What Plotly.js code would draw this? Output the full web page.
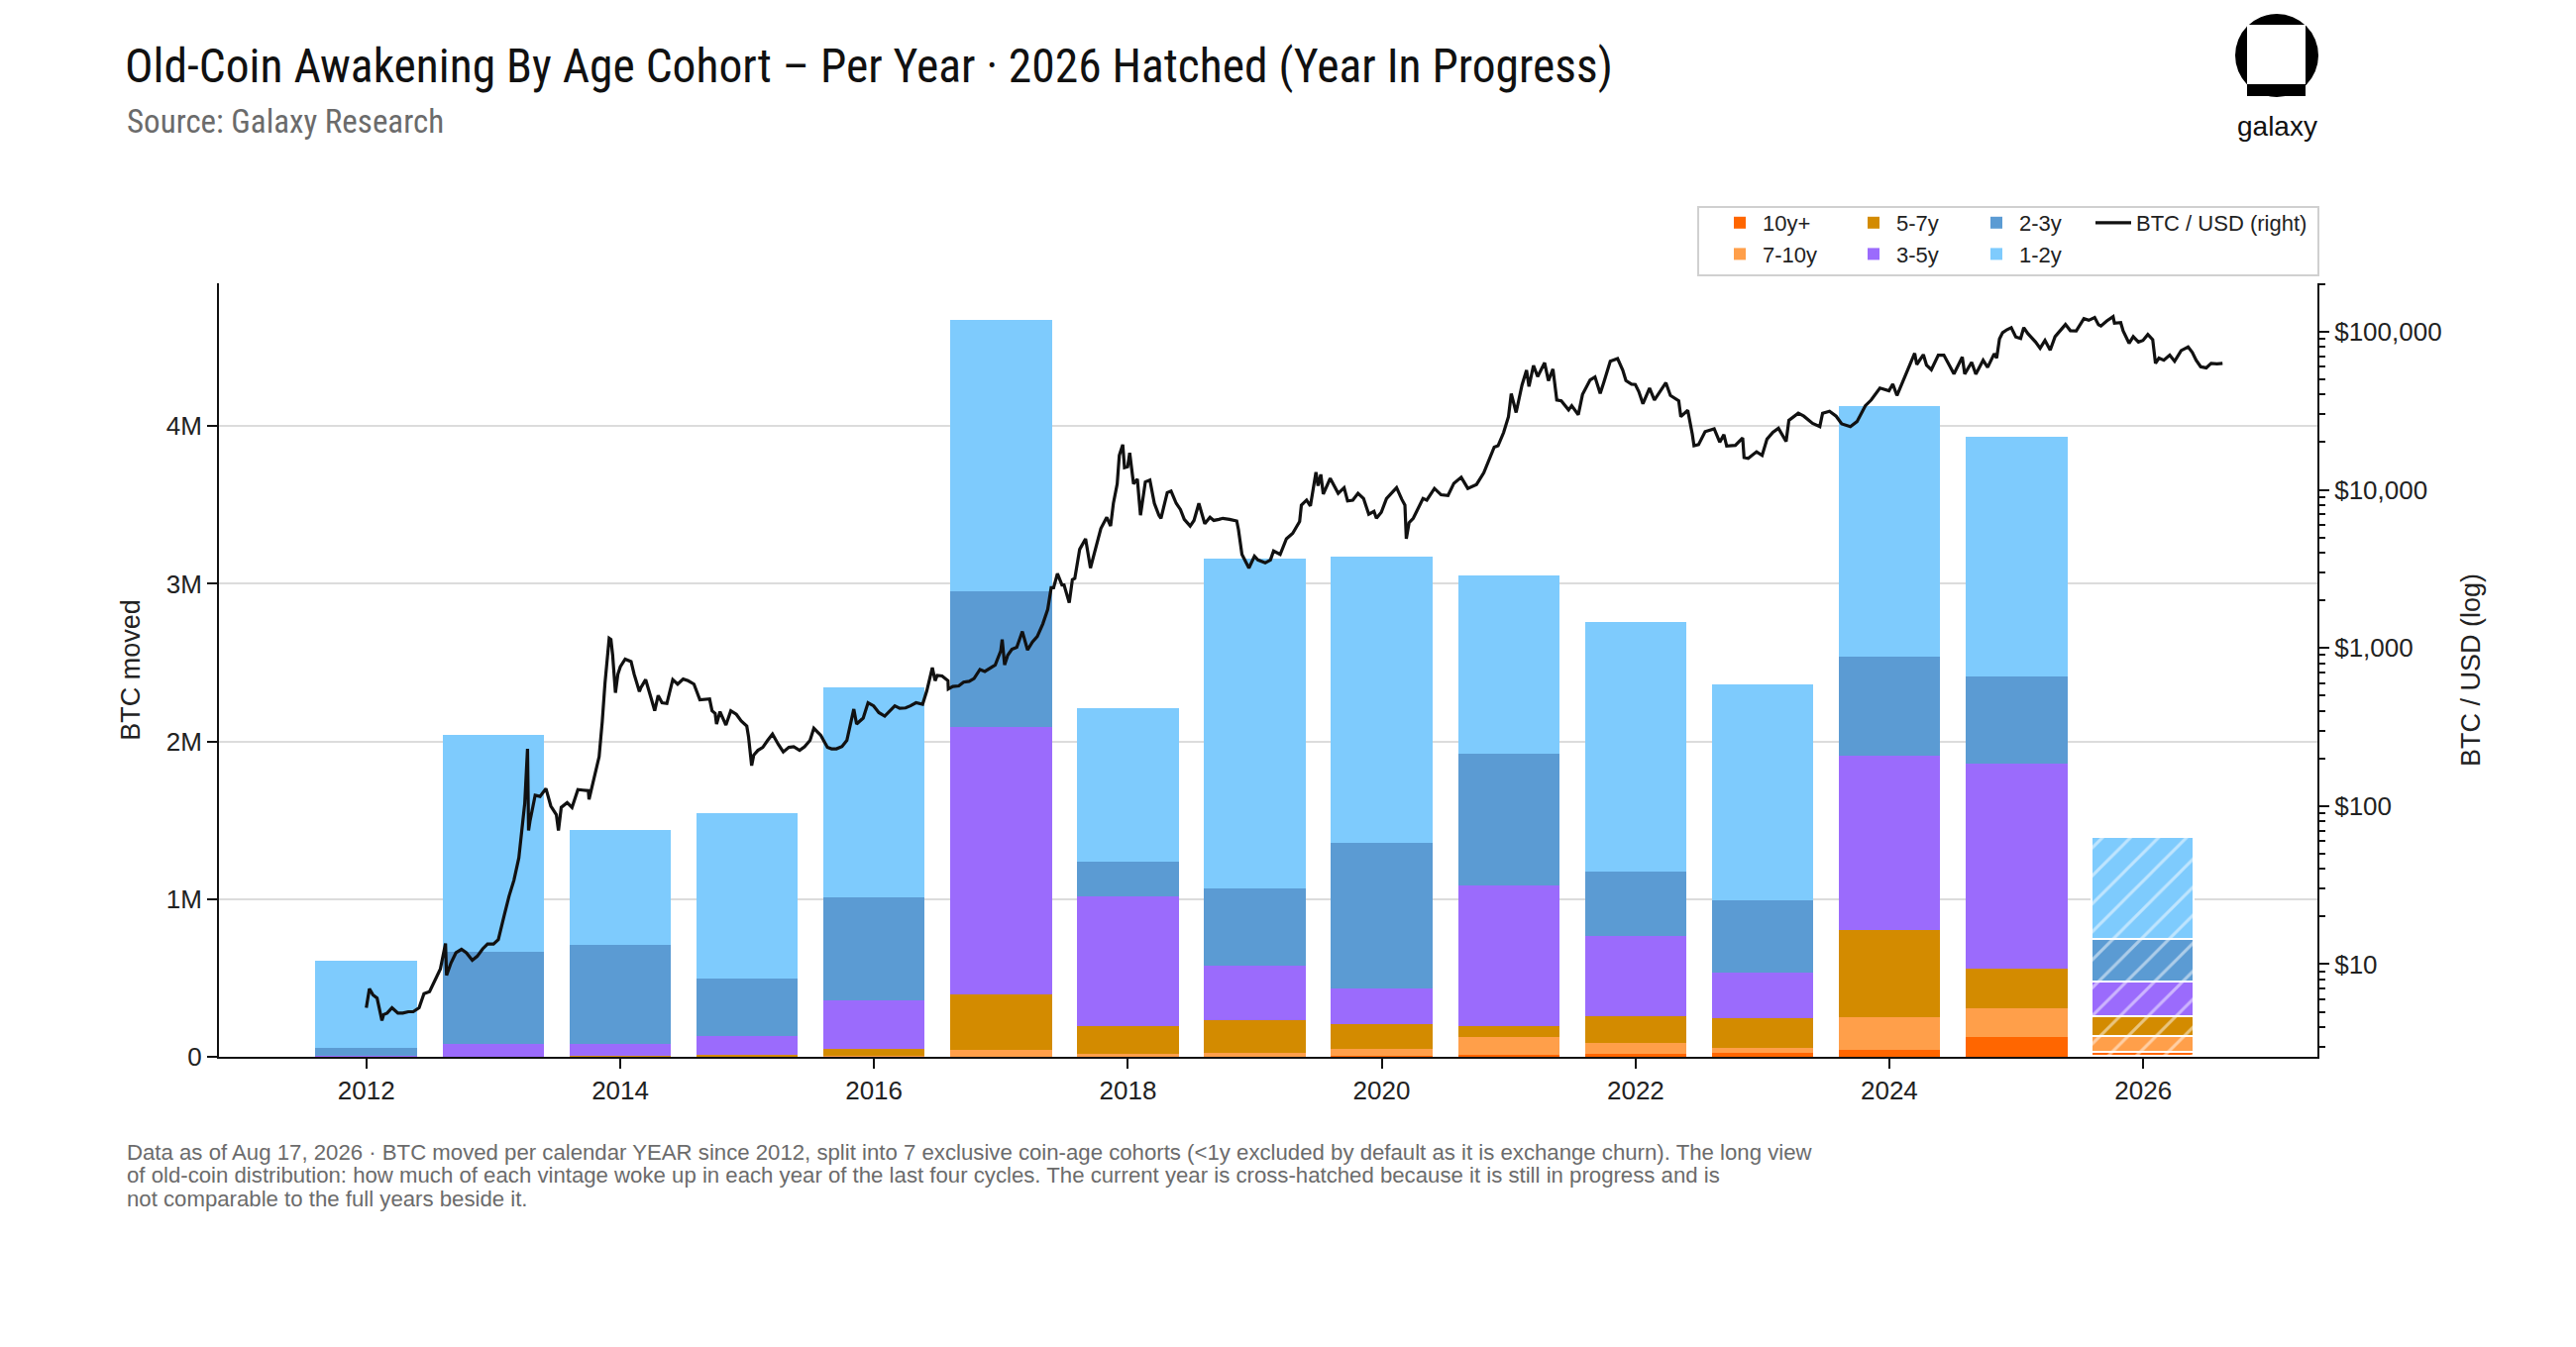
<!DOCTYPE html>
<html>
<head>
<meta charset="utf-8">
<script src="https://cdn.plot.ly/plotly-3.0.1.min.js"></script>
<style>html,body{margin:0;padding:0;background:#fff;}#chart{width:2600px;height:1360px;}</style>
</head>
<body>
<div id="chart"></div>
<script>
// ---- Data (BTC moved, millions) ----
const years = [2012,2013,2014,2015,2016,2017,2018,2019,2020,2021,2022,2023,2024,2025,2026];
const cohortNames = ['10y+','7-10y','5-7y','3-5y','2-3y','1-2y'];
const c10yPlus = [0,0,0,0,0,0,0,0,0.005,0.010,0.016,0.023,0.043,0.125,0.026];
const c7to10y  = [0,0,0,0,0.008,0.043,0.016,0.023,0.044,0.115,0.073,0.033,0.210,0.184,0.099];
const c5to7y   = [0,0,0.005,0.010,0.045,0.354,0.181,0.210,0.158,0.072,0.170,0.190,0.552,0.249,0.125];
const c3to5y   = [0.005,0.079,0.074,0.121,0.302,1.695,0.818,0.342,0.226,0.890,0.509,0.286,1.106,1.304,0.220];
const c2to3y   = [0.051,0.588,0.630,0.365,0.656,0.860,0.223,0.492,0.923,0.834,0.408,0.460,0.628,0.549,0.272];
const c1to2y   = [0.555,1.376,0.729,1.051,1.331,1.721,0.972,2.092,1.816,1.130,1.583,1.369,1.586,1.520,0.647];
const inProgressYear = 2026;

// ---- BTC / USD price ----
const priceDates = [
'2012-01-01','2012-01-10','2012-01-20','2012-02-01','2012-02-15','2012-02-20','2012-03-01','2012-03-15','2012-04-01','2012-04-15','2012-05-01','2012-05-15','2012-06-01','2012-06-15','2012-07-01','2012-07-15','2012-08-01','2012-08-16','2012-08-19','2012-09-01','2012-09-15','2012-10-01','2012-10-15','2012-11-01','2012-11-15','2012-12-01','2012-12-15',
'2013-01-01','2013-01-15','2013-02-01','2013-02-15','2013-03-01','2013-03-15','2013-04-01','2013-04-09','2013-04-12','2013-04-16','2013-05-01','2013-05-15','2013-06-01','2013-06-15','2013-07-01','2013-07-07','2013-07-15','2013-08-01','2013-08-15','2013-09-01','2013-09-15','2013-10-01','2013-10-03','2013-10-15','2013-11-01','2013-11-10','2013-11-18','2013-11-30','2013-12-05','2013-12-10','2013-12-18','2013-12-25',
'2014-01-01','2014-01-15','2014-02-01','2014-02-10','2014-02-25','2014-03-01','2014-03-15','2014-04-01','2014-04-10','2014-04-20','2014-05-01','2014-05-15','2014-06-01','2014-06-15','2014-07-01','2014-07-15','2014-08-01','2014-08-18','2014-09-01','2014-09-15','2014-09-22','2014-10-01','2014-10-05','2014-10-15','2014-11-01','2014-11-15','2014-12-01','2014-12-15','2014-12-31',
'2015-01-05','2015-01-14','2015-01-20','2015-02-01','2015-02-15','2015-03-01','2015-03-15','2015-04-01','2015-04-15','2015-05-01','2015-05-15','2015-06-01','2015-06-15','2015-07-01','2015-07-12','2015-08-01','2015-08-20','2015-09-01','2015-09-15','2015-10-01','2015-10-15','2015-11-04','2015-11-12','2015-12-01','2015-12-15','2015-12-31',
'2016-01-15','2016-02-01','2016-02-15','2016-03-01','2016-03-15','2016-04-01','2016-04-15','2016-05-01','2016-05-20','2016-06-01','2016-06-17','2016-06-25','2016-07-01','2016-07-15','2016-08-01','2016-08-02','2016-08-15','2016-09-01','2016-09-15','2016-10-01','2016-10-15','2016-11-01','2016-11-15','2016-12-01','2016-12-15','2016-12-31',
'2017-01-04','2017-01-11','2017-01-20','2017-02-01','2017-02-15','2017-03-03','2017-03-18','2017-04-01','2017-04-15','2017-05-01','2017-05-15','2017-05-25','2017-06-01','2017-06-12','2017-06-25','2017-07-01','2017-07-16','2017-07-25','2017-08-01','2017-08-15','2017-09-01','2017-09-15','2017-09-25','2017-10-01','2017-10-15','2017-11-01','2017-11-12','2017-11-20','2017-12-01','2017-12-07','2017-12-17','2017-12-22','2017-12-31',
'2018-01-06','2018-01-17','2018-01-28','2018-02-06','2018-02-20','2018-03-05','2018-03-18','2018-03-31','2018-04-06','2018-04-24','2018-05-05','2018-05-20','2018-06-01','2018-06-12','2018-06-29','2018-07-10','2018-07-24','2018-08-10','2018-08-25','2018-09-05','2018-09-20','2018-10-01','2018-10-20','2018-11-10','2018-11-15','2018-11-25','2018-12-15','2018-12-31',
'2019-01-10','2019-01-31','2019-02-15','2019-02-24','2019-03-15','2019-04-02','2019-04-20','2019-05-10','2019-05-15','2019-05-30','2019-06-10','2019-06-26','2019-07-02','2019-07-10','2019-07-17','2019-08-06','2019-08-29','2019-09-15','2019-09-25','2019-10-10','2019-10-25','2019-11-10','2019-11-25','2019-12-10','2019-12-17','2019-12-31',
'2020-01-15','2020-02-13','2020-02-28','2020-03-08','2020-03-12','2020-03-20','2020-04-01','2020-04-29','2020-05-10','2020-06-01','2020-06-20','2020-07-10','2020-07-27','2020-08-17','2020-09-05','2020-09-30','2020-10-21','2020-11-05','2020-11-20','2020-12-01','2020-12-17','2020-12-31',
'2021-01-08','2021-01-22','2021-02-08','2021-02-21','2021-02-28','2021-03-13','2021-03-25','2021-04-14','2021-04-25','2021-05-08','2021-05-19','2021-06-01','2021-06-22','2021-07-01','2021-07-20','2021-08-01','2021-08-23','2021-09-06','2021-09-21','2021-10-01','2021-10-20','2021-11-10','2021-11-25','2021-12-04','2021-12-20','2021-12-31',
'2022-01-10','2022-01-22','2022-02-10','2022-02-24','2022-03-29','2022-04-11','2022-05-05','2022-05-11','2022-05-31','2022-06-13','2022-06-18','2022-07-01','2022-07-20','2022-08-15','2022-08-31','2022-09-12','2022-09-20','2022-10-15','2022-11-05','2022-11-09','2022-11-21','2022-12-15','2022-12-31',
'2023-01-14','2023-01-31','2023-02-16','2023-03-10','2023-03-18','2023-04-14','2023-04-30','2023-05-25','2023-06-15','2023-06-23','2023-07-13','2023-08-01','2023-08-17','2023-09-11','2023-09-30','2023-10-24','2023-11-10','2023-12-05','2023-12-31',
'2024-01-11','2024-01-23','2024-02-15','2024-02-28','2024-03-14','2024-03-20','2024-04-08','2024-04-17','2024-05-01','2024-05-21','2024-06-06','2024-06-24','2024-07-05','2024-07-29','2024-08-05','2024-08-25','2024-09-06','2024-09-27','2024-10-10','2024-10-29','2024-11-05','2024-11-13','2024-11-22','2024-12-05','2024-12-17','2024-12-30',
'2025-01-13','2025-01-22','2025-02-03','2025-02-25','2025-03-10','2025-03-24','2025-04-08','2025-04-22','2025-05-10','2025-05-22','2025-06-05','2025-06-22','2025-07-14','2025-07-28','2025-08-14','2025-08-25','2025-09-01','2025-09-18','2025-10-06','2025-10-10','2025-10-28','2025-11-04','2025-11-21','2025-12-03','2025-12-18','2025-12-31',
'2026-01-14','2026-01-28','2026-02-05','2026-02-15','2026-03-01','2026-03-18','2026-04-01','2026-04-20','2026-05-10','2026-05-22','2026-06-02','2026-06-15','2026-07-01','2026-07-15','2026-08-01','2026-08-17'
];
const priceUSD = [
5.3,7.0,6.4,6.1,4.4,4.8,4.9,5.3,4.9,4.9,5.0,5.0,5.3,6.5,6.7,7.7,9.3,13.5,8.5,10.2,11.8,12.4,11.8,10.6,11.2,12.5,13.4,
13.4,14.3,20.4,27,34,47,104,230,70,80,117,115,129,100,88,70,98,105,98,127,126,125,110,145,205,340,600,1150,1130,900,520,680,
760,850,820,680,530,560,630,470,400,500,450,445,630,590,635,620,590,470,475,475,400,385,330,395,325,400,380,345,320,
275,180,210,225,235,260,285,245,220,235,237,225,237,260,310,280,235,230,230,238,260,410,330,360,450,430,
390,370,400,430,415,417,430,450,440,535,750,620,670,665,620,550,570,575,607,615,640,730,710,750,780,960,
1130,780,900,980,1010,1270,970,1090,1180,1420,1750,2400,2400,2950,2500,2500,1930,2700,2750,4200,4900,3200,3900,4400,5700,6700,5900,8200,10900,16500,19300,13800,14000,
17100,10900,11700,6900,11200,11500,8200,6900,6600,9600,9800,8200,7500,6500,5900,6400,8200,6100,6700,6400,6500,6600,6500,6350,5600,3900,3200,3800,
3600,3450,3600,4100,3900,4900,5300,6300,8000,8600,7900,12900,10600,12500,9400,11800,9500,10300,8500,8600,9500,8800,7000,7300,6600,7200,
8800,10300,8700,8000,4900,6200,6600,8800,8600,10200,9300,9200,11000,12000,10200,10800,12800,15500,18600,19000,23000,29000,
40500,30800,46000,57000,45000,61000,52000,63500,49000,58000,37000,36500,32000,34000,29800,40000,49500,51700,40600,47500,65000,67500,57000,49000,46500,46300,
41800,35000,44000,37000,47500,39500,36500,29000,31800,22500,19000,19300,23300,24300,20000,22300,18900,19100,21300,16000,15800,17400,16500,
20900,23100,24500,20200,27500,30500,29200,26300,25100,30500,31400,29200,26100,25100,27000,34000,37000,44000,42300,
46600,39500,52000,62500,73000,62000,71600,61500,57500,71000,71000,60000,54000,69000,54000,64000,53900,65900,59500,72500,68000,90000,98500,103000,106000,92500,
90500,106000,97000,86000,78500,88000,76500,93000,104000,111000,101500,101000,121000,118000,123000,110500,108500,117000,124500,113000,114000,101000,84500,93000,86000,88000,
96000,89000,63000,68000,66000,71000,65000,76000,80000,74000,66000,60000,59000,63000,62500,63000
];

// ---- Labels ----
const yTickVals = [0,1,2,3,4];
const yTickText = ['0','1M','2M','3M','4M'];
const priceTickVals = [10,100,1000,10000,100000];
const priceTickText = ['$10','$100','$1,000','$10,000','$100,000'];
const priceMinorVals = [3,4,5,6,7,8,9,20,30,40,50,60,70,80,90,200,300,400,500,600,700,800,900,2000,3000,4000,5000,6000,7000,8000,9000,20000,30000,40000,50000,60000,70000,80000,90000,200000];
const cohortColors = ['#FF6600','#FF9F4A','#D38B00','#9B6BFC','#5B9BD3','#7ECBFD'];
const cohortLegend = ['legend','legend','legend2','legend2','legend3','legend3'];
const footLines = [
 'Data as of Aug 17, 2026 · BTC moved per calendar YEAR since 2012, split into 7 exclusive coin-age cohorts (<1y excluded by default as it is exchange churn). The long view',
 'of old-coin distribution: how much of each vintage woke up in each year of the last four cycles. The current year is cross-hatched because it is still in progress and is',
 'not comparable to the full years beside it.'
];

// ---- Build traces ----
const series = [c10yPlus,c7to10y,c5to7y,c3to5y,c2to3y,c1to2y];
const yearDates = years.map(y => y + '-01-01');
const barWidthMs = 0.8 * 365.25 * 86400000;
const patShapes = years.map(y => y === inProgressYear ? '/' : '');
const lineWidths = years.map(y => y === inProgressYear ? 1.6 : 0);

const traces = series.map((vals, i) => ({
  type: 'bar',
  name: cohortNames[i],
  x: yearDates,
  y: vals,
  width: barWidthMs,
  legend: cohortLegend[i],
  marker: {
    color: cohortColors[i],
    line: {color: '#ffffff', width: lineWidths},
    pattern: {shape: patShapes, fgcolor: '#ffffff', fillmode: 'overlay', size: 20, solidity: 0.15}
  },
  hovertemplate: '%{x|%Y} ' + cohortNames[i] + ': %{y:.2f}M<extra></extra>'
}));

traces.push({
  type: 'scatter',
  mode: 'lines',
  name: 'BTC / USD (right)',
  x: priceDates,
  y: priceUSD,
  yaxis: 'y2',
  legend: 'legend4',
  line: {color: '#111111', width: 3.2},
  hovertemplate: '%{x|%b %Y}: $%{y:,.0f}<extra></extra>'
});

// ---- Geometry helpers (pixel -> paper) ----
const W = 2600, H = 1360;
const M = {l: 221, r: 261, t: 286, b: 293};
const PW = W - M.l - M.r, PH = H - M.t - M.b;
const px = x => (x - M.l) / PW;
const py = y => (H - M.b - y) / PH;

const FONT = 'Liberation Sans, Arial, sans-serif';
const TITLEFONT = 'Roboto Condensed, Liberation Sans Narrow, Arial Narrow, Liberation Sans, sans-serif';

const legendCommon = {
  orientation: 'v', xanchor: 'left', yanchor: 'top',
  bgcolor: 'rgba(0,0,0,0)', borderwidth: 0,
  font: {family: FONT, size: 22, color: '#222'},
  traceorder: 'normal', itemwidth: 36
};
const legTop = py(204);

const annotations = [
  {xref: 'paper', yref: 'paper', x: px(126), y: py(123), xanchor: 'left', yanchor: 'middle',
   text: 'Source: Galaxy Research', showarrow: false, font: {family: TITLEFONT, size: 33, color: '#6b6b6b'}},
  {xref: 'paper', yref: 'paper', x: px(2298), y: py(128), xanchor: 'center', yanchor: 'middle',
   text: 'galaxy', showarrow: false, font: {family: FONT, size: 28, color: '#111'}}
];
const footY = [1163, 1186, 1210];
footLines.forEach((t, i) => annotations.push({
  xref: 'paper', yref: 'paper', x: px(126), y: py(footY[i]), xanchor: 'left', yanchor: 'middle',
  text: t, showarrow: false, font: {family: FONT, size: 22.2, color: '#6b6b6b'}
}));

const logoX = px(2298), logoY = py(56);
const shapes = [
  // legend frame
  {type: 'rect', xref: 'paper', yref: 'paper', x0: px(1714), x1: px(2340), y0: py(278), y1: py(209),
   line: {color: '#d0d0d0', width: 2}, fillcolor: '#ffffff', layer: 'below'},
  // galaxy logo
  {type: 'circle', xref: 'paper', yref: 'paper', xsizemode: 'pixel', ysizemode: 'pixel', xanchor: logoX, yanchor: logoY,
   x0: -42, x1: 42, y0: -42, y1: 42, fillcolor: '#000', line: {width: 0}},
  {type: 'rect', xref: 'paper', yref: 'paper', xsizemode: 'pixel', ysizemode: 'pixel', xanchor: logoX, yanchor: logoY,
   x0: -30, x1: 29, y0: -29, y1: 31, fillcolor: '#fff', line: {width: 0}},
  {type: 'rect', xref: 'paper', yref: 'paper', xsizemode: 'pixel', ysizemode: 'pixel', xanchor: logoX, yanchor: logoY,
   x0: -30, x1: 29, y0: -41, y1: -29, fillcolor: '#000', line: {width: 0}}
];

const layout = {
  width: W, height: H,
  margin: {l: M.l, r: M.r, t: M.t, b: M.b, autoexpand: false},
  paper_bgcolor: '#ffffff', plot_bgcolor: '#ffffff',
  barmode: 'stack', bargap: 0,
  font: {family: FONT, size: 26, color: '#222'},
  title: {
    text: 'Old-Coin Awakening By Age Cohort – Per Year · 2026 Hatched (Year In Progress)',
    xref: 'container', yref: 'container', x: 126 / W, xanchor: 'left', y: 1 - 66 / H, yanchor: 'middle',
    font: {family: TITLEFONT, size: 47.5, color: '#111'}
  },
  xaxis: {
    type: 'date', range: ['2010-11-03', '2027-05-17'],
    tick0: '2012-01-01', dtick: 'M24', tickformat: '%Y',
    showline: true, linecolor: '#111', linewidth: 2,
    ticks: 'outside', ticklen: 10, tickwidth: 2, tickcolor: '#111',
    showgrid: false, zeroline: false,
    tickfont: {family: FONT, size: 26, color: '#222'}
  },
  yaxis: {
    range: [0, 4.906], tickmode: 'array', tickvals: yTickVals, ticktext: yTickText,
    showline: true, linecolor: '#111', linewidth: 2,
    ticks: 'outside', ticklen: 10, tickwidth: 2, tickcolor: '#111',
    showgrid: true, gridcolor: '#dcdcdc', gridwidth: 2, zeroline: false,
    tickfont: {family: FONT, size: 26, color: '#222'},
    title: {text: 'BTC moved', font: {family: FONT, size: 27, color: '#222'}, standoff: 18}
  },
  yaxis2: {
    type: 'log', overlaying: 'y', side: 'right', range: [0.414, 5.306],
    tickmode: 'array', tickvals: priceTickVals, ticktext: priceTickText,
    showline: true, linecolor: '#111', linewidth: 2,
    ticks: 'outside', ticklen: 10, tickwidth: 2, tickcolor: '#111',
    minor: {tickmode: 'array', tickvals: priceMinorVals,
            ticks: 'outside', ticklen: 6, tickwidth: 1.5, tickcolor: '#111', showgrid: false},
    showgrid: false, zeroline: false,
    tickfont: {family: FONT, size: 26, color: '#222'},
    title: {text: 'BTC / USD (log)', font: {family: FONT, size: 27, color: '#222'}, standoff: 20}
  },
  legend:  Object.assign({}, legendCommon, {x: px(1733), y: legTop}),
  legend2: Object.assign({}, legendCommon, {x: px(1868), y: legTop}),
  legend3: Object.assign({}, legendCommon, {x: px(1992), y: legTop}),
  legend4: Object.assign({}, legendCommon, {x: px(2110), y: legTop}),
  showlegend: true,
  annotations: annotations,
  shapes: shapes
};

Plotly.newPlot('chart', traces, layout, {displayModeBar: false, responsive: false});
</script>
</body>
</html>
